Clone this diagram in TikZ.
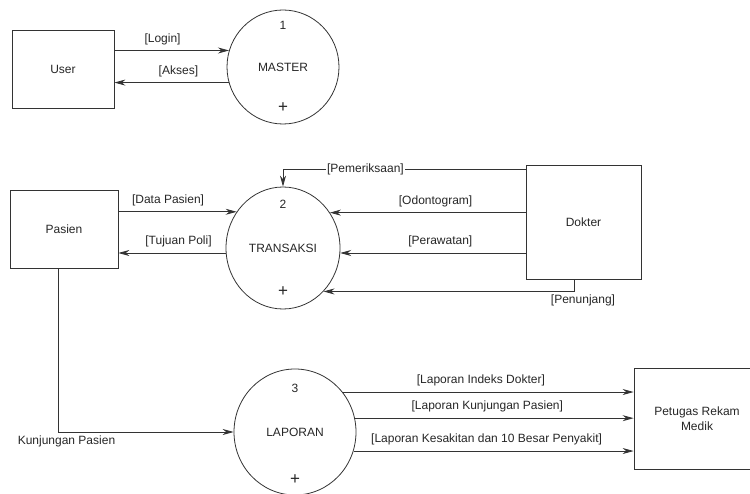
\documentclass[tikz,border=0pt]{standalone}
\usepackage{fontspec}
\setmainfont{Liberation Sans}
\usepackage{tikz}
\usetikzlibrary{shapes,arrows.meta}
\tikzset{
  block/.style    = {draw=black!80, line width=0.8pt, rectangle, align=center},
  proc/.style     = {draw=black!80, line width=0.8pt, ellipse, inner sep=0pt},
  pnum/.style     = {inner sep=1pt},
  pplus/.style    = {inner sep=1pt, font=\fontsize{17}{17}\selectfont},
  lbl/.style      = {above, yshift=2pt},
  flow/.style     = {->, draw=black!80, line width=0.8pt}
}

\begin{document}
\begin{tikzpicture}[auto, x=1pt, y=-1pt, node distance=2cm, >={Stealth[length=11pt,width=6pt]},
  font=\fontsize{12}{15}\selectfont, text=black!85]

\useasboundingbox (0,0) rectangle (750,494);

% Entities and processes
\draw node [block, minimum width=102pt, minimum height=78pt, name=user] at (63,69) {User};
\draw node [proc, right of=user, yshift=2pt, node distance=220pt, minimum width=112pt, minimum height=114pt] (master) {MASTER};
\draw node [block, below of=user, xshift=1pt, node distance=160pt, minimum width=108pt, minimum height=78pt] (pasien) {Pasien};
\draw node [proc, right of=pasien, yshift=-19pt, node distance=219pt, minimum width=114pt, minimum height=122pt] (transaksi) {TRANSAKSI};
\draw node [block, right of=transaksi, yshift=26pt, node distance=300.5pt, minimum width=115pt, minimum height=114pt] (dokter) {Dokter};
\draw node [proc, below of=transaksi, xshift=12pt, node distance=184pt, minimum width=122pt, minimum height=126pt] (laporan) {LAPORAN};
\draw node [block, right of=laporan, yshift=13.5pt, node distance=402pt, minimum width=126pt, minimum height=101pt] (petugas) {Petugas Rekam\\Medik};

% Process numbers
\draw node [pnum, above of=master, node distance=42pt] (num1) {1};
\draw node [pplus, below of=master, node distance=41pt] (plus1) {+};
\draw node [pnum, above of=transaksi, node distance=44pt] (num2) {2};
\draw node [pplus, below of=transaksi, node distance=44pt] (plus2) {+};
\draw node [pnum, above of=laporan, node distance=44pt] (num3) {3};
\draw node [pplus, below of=laporan, node distance=48pt] (plus3) {+};

% Flows
\draw[flow](user.east |- master.163) -- node[lbl, pos=0.42] {[Login]}(master.163);
\draw[flow](master.196) -- node[lbl, pos=0.44] {[Akses]}(user.east |- master.196);
\draw[flow](pasien.east |- transaksi.142) -- node[lbl, pos=0.42] {[Data Pasien]}(transaksi.142);
\draw[flow](transaksi.185) -- node[lbl, pos=0.44] {[Tujuan Poli]}(pasien.east |- transaksi.185);
\draw[flow]([yshift=53pt]dokter.west) -| node[auto=false, pos=0.33, fill=white, inner sep=1pt] {[Pemeriksaan]}(transaksi.north);
\draw[flow](dokter.west |- transaksi.37) -- node[lbl, pos=0.46] {[Odontogram]}(transaksi.37);
\draw[flow](dokter.west |- transaksi.-5) -- node[lbl, pos=0.46] {[Perawatan]}(transaksi.-5);
\draw[flow]([xshift=-9.5pt]dokter.south) |- node[pos=0.5, below, xshift=9pt] {[Penunjang]}(transaksi.-47);
\draw[flow]([xshift=-6pt]pasien.south) |- node[pos=0.5, below, xshift=8.5pt] {Kunjungan Pasien}(laporan.west);
\draw[flow](laporan.40) -- node[lbl, pos=0.475] {[Laporan Indeks Dokter]}(petugas.west |- laporan.40);
\draw[flow](laporan.13) -- node[lbl, pos=0.475] {[Laporan Kunjungan Pasien]}(petugas.west |- laporan.13);
\draw[flow](laporan.-18) -- node[lbl, pos=0.475] {[Laporan Kesakitan dan 10 Besar Penyakit]}(petugas.west |- laporan.-18);

\end{tikzpicture}
\end{document}
